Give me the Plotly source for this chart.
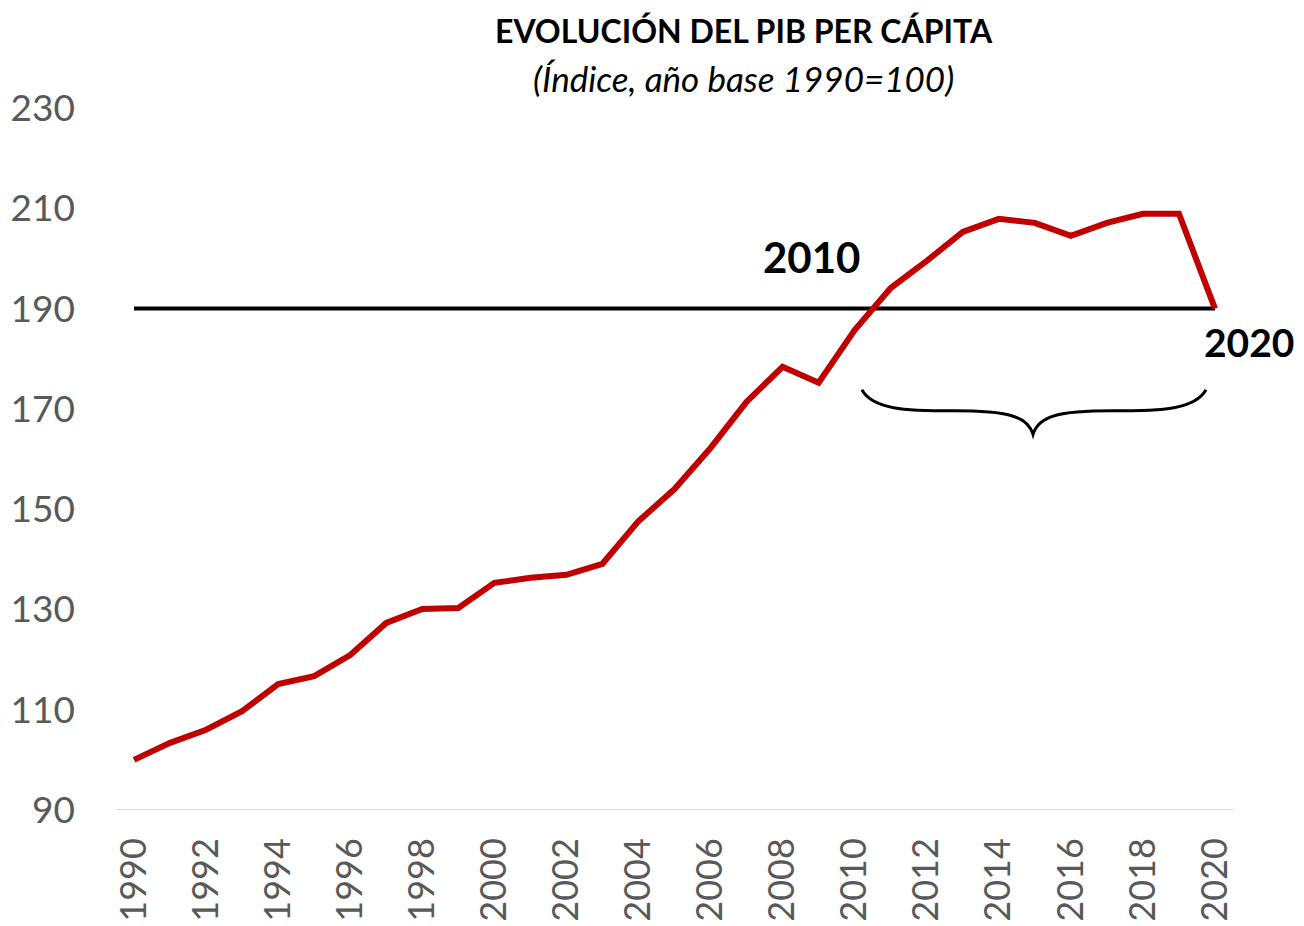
import plotly.graph_objects as go

years = list(range(1990, 2021))
pib_index = [100, 103.4, 106.0, 109.7, 115.1, 116.7, 120.9, 127.3, 130.1, 130.3,
             135.3, 136.3, 136.9, 139.1, 147.6, 154.0, 162.2, 171.4, 178.4, 175.2,
             185.7, 194.1, 199.5, 205.3, 207.9, 207.1, 204.5, 207.1, 208.9, 208.9,
             190.0]
ref_level = 190
y_ticks = [90, 110, 130, 150, 170, 190, 210, 230]
x_ticks = list(range(1990, 2021, 2))

title_main = "EVOLUCIÓN DEL PIB PER CÁPITA"
title_sub = "(Índice, año base 1990=100)"
label_start = "2010"
label_end = "2020"

# brace annotation anchor values (data units)
brace_x0, brace_x1, brace_xm = 2010.2, 2019.75, 2014.95
brace_top, brace_mid, brace_tip = 173.8, 169.6, 164.9

font_family = "Lato, 'Open Sans', sans-serif"

fig = go.Figure()
fig.add_trace(go.Scatter(x=[years[0], years[-1]], y=[ref_level, ref_level], mode="lines",
                         line=dict(color="black", width=4), hoverinfo="skip", showlegend=False))
fig.add_trace(go.Scatter(x=years, y=pib_index, mode="lines",
                         line=dict(color="#C00000", width=6), showlegend=False, cliponaxis=False))

path = (f"M {brace_x0},{brace_top} "
        f"C {brace_x0+0.3},{brace_mid+0.3} {brace_x0+1.2},{brace_mid} {brace_xm-2.2},{brace_mid} "
        f"C {brace_xm-0.7},{brace_mid} {brace_xm-0.15},{brace_mid-1.0} {brace_xm},{brace_tip} "
        f"C {brace_xm+0.15},{brace_mid-1.0} {brace_xm+0.7},{brace_mid} {brace_xm+2.2},{brace_mid} "
        f"C {brace_x1-1.2},{brace_mid} {brace_x1-0.3},{brace_mid+0.3} {brace_x1},{brace_top}")
fig.add_shape(type="path", path=path, xref="x", yref="y", line=dict(color="black", width=3))

fig.add_annotation(x=2008.8, y=200.3, text=f"<b>{label_start}</b>", showarrow=False,
                   font=dict(size=42, color="black", family=font_family))
fig.add_annotation(x=years[-1], y=ref_level, yshift=-33, xshift=34, text=f"<b>{label_end}</b>",
                   showarrow=False, font=dict(size=39, color="black", family=font_family))

fig.add_annotation(xref="paper", yref="paper", x=0.562, y=1.111, xanchor="center", yanchor="middle",
                   text=f"<b>{title_main}</b>", showarrow=False,
                   font=dict(size=32, color="black", family=font_family))
fig.add_annotation(xref="paper", yref="paper", x=0.562, y=1.043, xanchor="center", yanchor="middle",
                   text=f"<i>{title_sub}</i>", showarrow=False,
                   font=dict(size=35, color="black", family=font_family))

fig.update_layout(
    width=1304, height=926,
    margin=dict(l=108, r=79, t=100, b=124),
    paper_bgcolor="white", plot_bgcolor="white",
    font=dict(family=font_family, color="#595959"),
    xaxis=dict(range=[1989.5, 2020.5], tickvals=x_ticks, ticktext=[str(v) for v in x_ticks],
               tickangle=-90, tickfont=dict(size=36, color="#595959"), automargin=False,
               showgrid=False, zeroline=False, showline=False, ticks="", ticklabelstandoff=20),
    yaxis=dict(range=[90, 230], tickvals=y_ticks, tickfont=dict(size=37, color="#595959"),
               automargin=False,
               showgrid=False, zeroline=False, showline=False, ticks="", ticklabelstandoff=40),
)
fig.add_shape(type="line", xref="paper", yref="y", x0=0, x1=1, y0=90, y1=90,
              line=dict(color="#D9D9D9", width=2))

fig.write_html("out.html")
